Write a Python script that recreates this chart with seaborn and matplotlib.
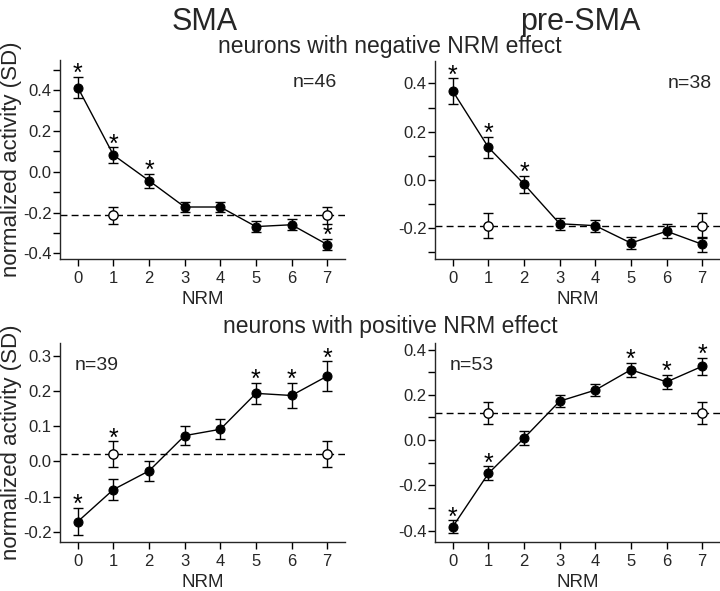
import numpy as np
import pandas as pd
import matplotlib
matplotlib.use("Agg")
import matplotlib.pyplot as plt
import seaborn as sns

# NRM levels on the x axis
nrm = [0, 1, 2, 3, 4, 5, 6, 7]

# SMA, neurons with negative NRM effect
sma_neg_mean = [0.413, 0.082, -0.044, -0.173, -0.173, -0.269, -0.260, -0.357]
sma_neg_err = [0.053, 0.038, 0.035, 0.026, 0.026, 0.026, 0.026, 0.028]
sma_neg_open = [-0.214, -0.214]
sma_neg_open_err = [0.041, 0.041]
sma_neg_stars = [0, 1, 2, 7]

# pre-SMA, neurons with negative NRM effect
pre_neg_mean = [0.368, 0.135, -0.017, -0.181, -0.189, -0.261, -0.212, -0.266]
pre_neg_err = [0.053, 0.043, 0.035, 0.025, 0.025, 0.025, 0.030, 0.030]
pre_neg_open = [-0.190, -0.190]
pre_neg_open_err = [0.052, 0.052]
pre_neg_stars = [0, 1, 2]

# SMA, neurons with positive NRM effect
sma_pos_mean = [-0.171, -0.080, -0.027, 0.073, 0.091, 0.193, 0.187, 0.242]
sma_pos_err = [0.038, 0.030, 0.029, 0.027, 0.028, 0.030, 0.035, 0.042]
sma_pos_open = [0.020, 0.020]
sma_pos_open_err = [0.037, 0.037]
sma_pos_stars = [0, 5, 6, 7]
sma_pos_open_stars = [1]

# pre-SMA, neurons with positive NRM effect
pre_pos_mean = [-0.382, -0.147, 0.009, 0.172, 0.221, 0.311, 0.257, 0.326]
pre_pos_err = [0.027, 0.031, 0.030, 0.027, 0.027, 0.031, 0.032, 0.037]
pre_pos_open = [0.119, 0.119]
pre_pos_open_err = [0.049, 0.049]
pre_pos_stars = [0, 1, 5, 6, 7]

open_x = [1, 7]

sns.set_theme(style="ticks")
plt.rcParams['font.family'] = ['Liberation Sans', 'DejaVu Sans']
plt.rcParams['axes.linewidth'] = 1.0

fig = plt.figure(figsize=(7.2, 5.91), dpi=100)


def star(ax, x, y):
    # asterisk placed just above the top of the error bar
    ax.annotate('*', xy=(x, y), xytext=(0, -3), textcoords='offset points',
                ha='center', va='baseline', fontsize=18, color='black')


def panel(rect, mean, err, open_y, open_err, stars, open_stars, ylim, major, minor, n_text, n_pos, ylabel):
    ax = fig.add_axes(rect)
    df = pd.DataFrame({"NRM": nrm, "act": mean})
    df_open = pd.DataFrame({"NRM": open_x, "act": open_y})

    # dashed baseline at the level of the open (control) points
    ax.axhline(open_y[0], color='black', linestyle=(0, (5, 3)), linewidth=1.0, zorder=1)

    ax.errorbar(nrm, mean, yerr=err, fmt='none', ecolor='black', elinewidth=1.0, capsize=3.5, capthick=1.0, zorder=2)
    ax.errorbar(open_x, open_y, yerr=open_err, fmt='none', ecolor='black', elinewidth=1.0, capsize=3.5, capthick=1.0, zorder=2)

    sns.lineplot(data=df, x="NRM", y="act", ax=ax, color='black', linewidth=1.0,
                 marker='o', markersize=6.5, markerfacecolor='black', markeredgecolor='black', zorder=3)
    sns.scatterplot(data=df_open, x="NRM", y="act", ax=ax, s=45, facecolor='white', edgecolor='black',
                    linewidth=1.0, zorder=4)

    for i in stars:
        star(ax, nrm[i], mean[i] + err[i])
    for i in open_stars:
        k = open_x.index(i)
        star(ax, i, open_y[k] + open_err[k])

    ax.set_xlim(-0.5, 7.5)
    ax.set_ylim(*ylim)
    ax.set_xticks(nrm)
    ax.set_yticks(major)
    ax.set_yticklabels([f"{v:.1f}" for v in major])
    ax.set_yticks(minor, minor=True)
    ax.tick_params(axis='both', which='both', direction='out', length=5, width=1, labelsize=12, color='black')
    ax.tick_params(axis='x', pad=4)
    ax.tick_params(axis='y', pad=1)
    ax.set_xlabel("NRM", fontsize=13.5, labelpad=3)
    ax.set_ylabel("normalized activity (SD)" if ylabel else "", fontsize=16)
    ax.yaxis.set_label_coords(-0.133, 0.5)
    sns.despine(ax=ax)
    ax.text(n_pos[0], n_pos[1], n_text, transform=ax.transAxes, fontsize=14,
            ha='right' if n_pos[0] > 0.5 else 'left', va='top')
    return ax


panel([60 / 720, 1 - 259 / 591, 285 / 720, 199 / 591], sma_neg_mean, sma_neg_err, sma_neg_open, sma_neg_open_err,
      sma_neg_stars, [], (-0.428, 0.548), [-0.4, -0.2, 0.0, 0.2, 0.4], [-0.3, -0.1, 0.1, 0.3, 0.5],
      "n=46", (0.97, 0.93), True)
panel([435 / 720, 1 - 259 / 591, 285 / 720, 198 / 591], pre_neg_mean, pre_neg_err, pre_neg_open, pre_neg_open_err,
      pre_neg_stars, [], (-0.327, 0.493), [-0.2, 0.0, 0.2, 0.4], [-0.3, -0.1, 0.1, 0.3],
      "n=38", (0.97, 0.93), False)
panel([60 / 720, 1 - 542 / 591, 285 / 720, 199 / 591], sma_pos_mean, sma_pos_err, sma_pos_open, sma_pos_open_err,
      sma_pos_stars, sma_pos_open_stars, (-0.229, 0.336), [-0.2, -0.1, 0.0, 0.1, 0.2, 0.3], [],
      "n=39", (0.05, 0.93), True)
panel([435 / 720, 1 - 542 / 591, 285 / 720, 199 / 591], pre_pos_mean, pre_pos_err, pre_pos_open, pre_pos_open_err,
      pre_pos_stars, [], (-0.45, 0.429), [-0.4, -0.2, 0.0, 0.2, 0.4], [-0.3, -0.1, 0.1, 0.3],
      "n=53", (0.05, 0.93), False)

fig.text(205 / 720, 1 - 22 / 591, "SMA", ha='center', va='center', fontsize=22)
fig.text(580 / 720, 1 - 22 / 591, "pre-SMA", ha='center', va='center', fontsize=22)
fig.text(390 / 720, 1 - 47 / 591, "neurons with negative NRM effect", ha='center', va='center', fontsize=16.5)
fig.text(390 / 720, 1 - 327 / 591, "neurons with positive NRM effect", ha='center', va='center', fontsize=16.5)

fig.savefig("out.png", dpi=100)
